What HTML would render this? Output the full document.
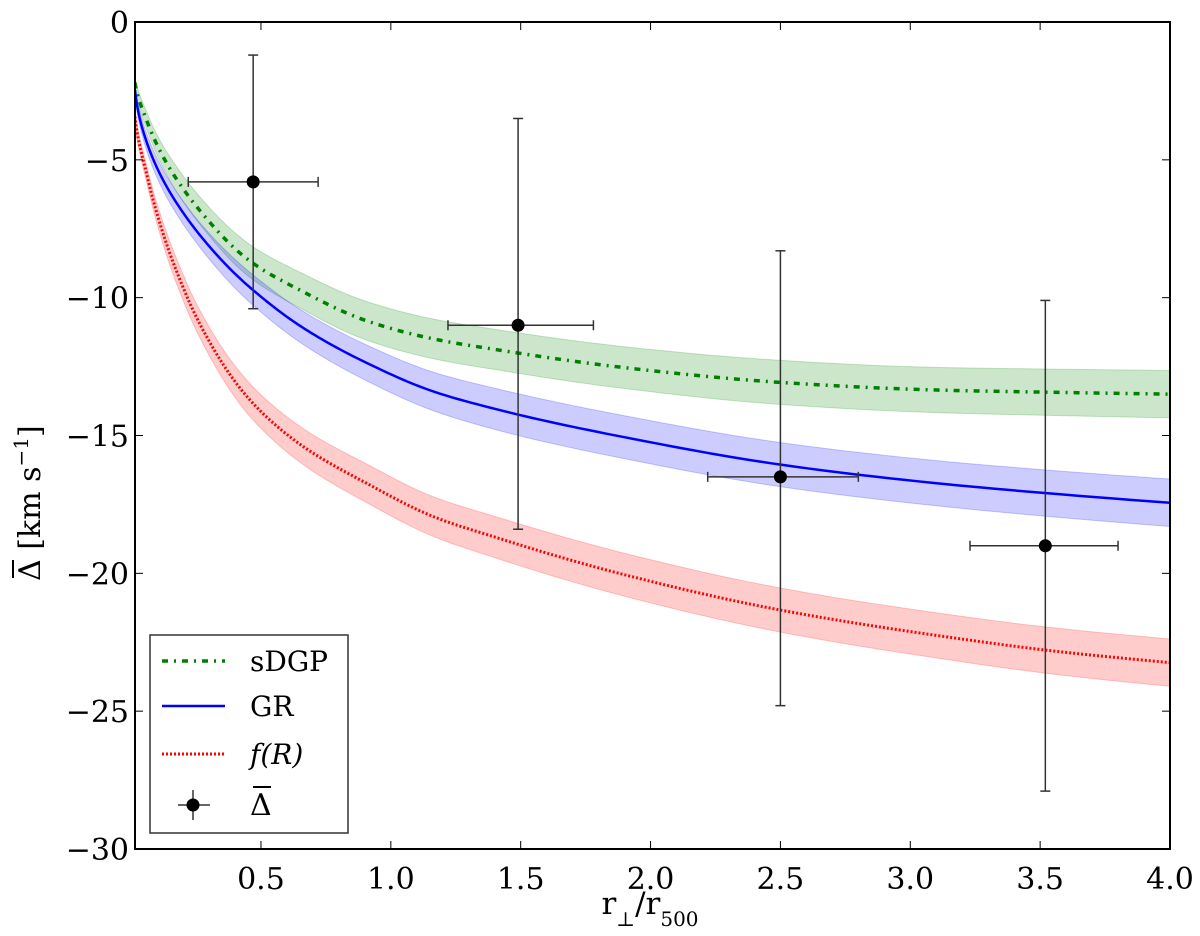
<!DOCTYPE html>
<html><head><meta charset="utf-8"><style>
html,body{margin:0;padding:0;background:#fff;width:1200px;height:936px;overflow:hidden}
text{font-family:"DejaVu Serif","Liberation Serif",serif;fill:#000}
</style></head><body>
<svg id="chart" width="1200" height="936" xmlns="http://www.w3.org/2000/svg">
<defs><clipPath id="clip"><rect x="135" y="22" width="1035" height="827"/></clipPath></defs>
<g id="bands" clip-path="url(#clip)"></g>
<g id="axes"></g>
<g id="legend"></g>
</svg>
<script>
const xs = [0.015,0.053,0.092,0.168,0.27,0.469,0.655,0.91,1.166,1.416,1.92,2.51,3.1,3.535,4.0];
const grVals   = [-2.47,-4.16,-5.13,-6.46,-7.79,-9.72,-11.05,-12.38,-13.41,-14.07,-15.1,-16.07,-16.73,-17.1,-17.44];
const sdgpVals = [-2.2,-3.4,-4.3,-5.6,-6.9,-8.75,-9.75,-10.85,-11.5,-11.9,-12.56,-13.08,-13.35,-13.43,-13.5];
const frVals   = [-3.43,-5.25,-6.7,-8.87,-11.05,-13.83,-15.35,-16.75,-17.95,-18.73,-20.1,-21.35,-22.25,-22.8,-23.24];
const grErr   = [0.2,0.3,0.35,0.4,0.45,0.55,0.6,0.65,0.7,0.75,0.78,0.8,0.82,0.84,0.86];
const sdgpErr = [0.2,0.3,0.35,0.45,0.5,0.6,0.65,0.7,0.72,0.73,0.76,0.8,0.82,0.84,0.86];
const frErr   = [0.25,0.3,0.35,0.45,0.5,0.6,0.65,0.7,0.72,0.75,0.78,0.8,0.82,0.84,0.86];
const ptX    = [0.47,1.49,2.5,3.52];
const ptY    = [-5.8,-11.0,-16.5,-19.0];
const ptXlo  = [0.22,1.22,2.22,3.23];
const ptXhi  = [0.72,1.78,2.8,3.8];
const ptYlo  = [-10.4,-18.4,-24.8,-27.9];
const ptYhi  = [-1.2,-3.5,-8.3,-10.1];
const xTicks = [0.5,1.0,1.5,2.0,2.5,3.0,3.5,4.0];
const xTickLabels = ["0.5","1.0","1.5","2.0","2.5","3.0","3.5","4.0"];
const yTicks = [0,-5,-10,-15,-20,-25,-30];
const yTickLabels = ["0","\u22125","\u221210","\u221215","\u221220","\u221225","\u221230"];

const L=135,R=1170,T=22,B=849,XMIN=0.015,XMAX=4.0,YMIN=-30,YMAX=0;
const X=v=>L+(v-XMIN)/(XMAX-XMIN)*(R-L);
const Y=v=>T+(YMAX-v)/(YMAX-YMIN)*(B-T);
const NS="http://www.w3.org/2000/svg";
function mk(tag,attrs,parent){const e=document.createElementNS(NS,tag);for(const k in attrs)e.setAttribute(k,attrs[k]);parent.appendChild(e);return e;}
// monotone cubic interpolation in log(x)
function interp(vals){
 const u=xs.map(Math.log),n=u.length,h=[],d=[];
 for(let i=0;i<n-1;i++){h.push(u[i+1]-u[i]);d.push((vals[i+1]-vals[i])/h[i]);}
 const m=[d[0]];
 for(let i=1;i<n-1;i++){m.push(d[i-1]*d[i]<=0?0:(3*(h[i-1]+h[i]))/((2*h[i]+h[i-1])/d[i-1]+(h[i]+2*h[i-1])/d[i]));}
 m.push(d[n-2]);
 return x=>{const t0=Math.log(x);let i=0;while(i<n-2&&t0>u[i+1])i++;
  const t=(t0-u[i])/h[i],t2=t*t,t3=t2*t;
  return (2*t3-3*t2+1)*vals[i]+(t3-2*t2+t)*h[i]*m[i]+(-2*t3+3*t2)*vals[i+1]+(t3-t2)*h[i]*m[i+1];};
}
const samp=[];for(let k=0;k<=300;k++)samp.push(Math.exp(Math.log(XMIN)+(Math.log(XMAX)-Math.log(XMIN))*k/300));
function curve(vals){const f=interp(vals);return samp.map(x=>[X(x),Y(f(x))]);}
function poly(pts){return 'M'+pts.map(p=>p[0].toFixed(2)+','+p[1].toFixed(2)).join('L');}
const plot=document.getElementById('bands');
const series=[
 {v:sdgpVals,e:sdgpErr,fill:'#008000',stroke:'#007f00',dash:'6 6 2 6',w:3.5,name:'sdgp'},
 {v:grVals,e:grErr,fill:'#0000ff',stroke:'#0000ff',dash:'',w:2.5,name:'gr'},
 {v:frVals,e:frErr,fill:'#ff0000',stroke:'#ff0000',dash:'2 2',w:3,name:'fr'}];
series.forEach(s=>{
 const up=curve(s.v.map((v,i)=>v+s.e[i])),lo=curve(s.v.map((v,i)=>v-s.e[i])).reverse();
 const b=mk('path',{d:poly(up.concat(lo))+'Z',fill:s.fill,'fill-opacity':0.2,stroke:s.fill,'stroke-opacity':0.2},plot);
 
 
});
series.forEach(s=>{
 const l=mk('path',{d:poly(curve(s.v)),fill:'none',stroke:s.stroke,'stroke-width':s.w,'stroke-dasharray':s.dash},plot);
 
 
});
ptX.forEach((x,i)=>{
 const g=mk('g',{stroke:'#333','stroke-width':1.5},plot);
 
 
 mk('line',{x1:X(ptXlo[i]),x2:X(ptXhi[i]),y1:Y(ptY[i]),y2:Y(ptY[i])},g);
 mk('line',{x1:X(x),x2:X(x),y1:Y(ptYlo[i]),y2:Y(ptYhi[i])},g);
 [ptXlo[i],ptXhi[i]].forEach(v=>mk('line',{x1:X(v),x2:X(v),y1:Y(ptY[i])-5,y2:Y(ptY[i])+5},g));
 [ptYlo[i],ptYhi[i]].forEach(v=>mk('line',{x1:X(x)-5,x2:X(x)+5,y1:Y(v),y2:Y(v)},g));
 mk('circle',{cx:X(x),cy:Y(ptY[i]),r:6.5,fill:'#000',stroke:'none'},g);
});
const ax=document.getElementById('axes');
const fr=mk('rect',{x:L,y:T,width:R-L,height:B-T,fill:'none',stroke:'#000','stroke-width':2},ax);


xTicks.forEach((t,i)=>{
 mk('line',{x1:X(t),x2:X(t),y1:B,y2:B-8,stroke:'#000','stroke-width':1},ax);
 mk('line',{x1:X(t),x2:X(t),y1:T,y2:T+8,stroke:'#000','stroke-width':1},ax);
 const tx=mk('text',{x:X(t),y:B+40,'text-anchor':'middle','font-size':30},ax);tx.textContent=xTickLabels[i];
 
 
});
yTicks.forEach((t,i)=>{
 mk('line',{x1:L,x2:L+8,y1:Y(t),y2:Y(t),stroke:'#000','stroke-width':1},ax);
 mk('line',{x1:R,x2:R-8,y1:Y(t),y2:Y(t),stroke:'#000','stroke-width':1},ax);
 const tx=mk('text',{x:L-6,y:Y(t)+11,'text-anchor':'end','font-size':30},ax);tx.textContent=yTickLabels[i];
 
 
});
const xl=mk('text',{x:650,y:914,'text-anchor':'middle','font-size':31},ax);
xl.innerHTML='r<tspan baseline-shift="sub" font-size="20">\u22a5</tspan>/r<tspan baseline-shift="sub" font-size="20">500</tspan>';


const yg=mk('g',{transform:'translate(40,423) rotate(-90)'},ax);


const yl=mk('text',{x:-158,y:0,'font-size':30},yg);
yl.innerHTML='\u0394 [km s<tspan baseline-shift="super" font-size="20">\u22121</tspan>]';
mk('line',{x1:-155,x2:-137,y1:-27,y2:-27,stroke:'#000','stroke-width':2},yg);
const lg=document.getElementById('legend');


mk('rect',{x:150,y:635,width:198,height:198,fill:'#fff',stroke:'#333','stroke-width':1.5},lg);
const entries=[['sDGP',661,0],['GR',706,1],['f(R)',754,2]];
entries.forEach(([lab,y,i])=>{
 const s=series[i];
 const e=mk('g',{},lg);
 
 
 mk('line',{x1:162,x2:225,y1:y,y2:y,stroke:s.stroke,'stroke-width':s.w,'stroke-dasharray':s.dash},e);
 const t=mk('text',{x:250,y:y+10,'font-size':28,'font-style':i==2?'italic':'normal'},e);t.textContent=lab;
});
const pe=mk('g',{stroke:'#333','stroke-width':1.5},lg);


mk('line',{x1:178,x2:210,y1:805,y2:805},pe);
mk('line',{x1:193,x2:193,y1:790,y2:820},pe);
mk('circle',{cx:193,cy:805,r:6.5,fill:'#000',stroke:'none'},pe);
const dt=mk('text',{x:250,y:815,'font-size':30,stroke:'none'},lg);dt.textContent='\u0394';
mk('line',{x1:253,x2:271,y1:787,y2:787,stroke:'#000','stroke-width':2},lg);
</script>
</body></html>
